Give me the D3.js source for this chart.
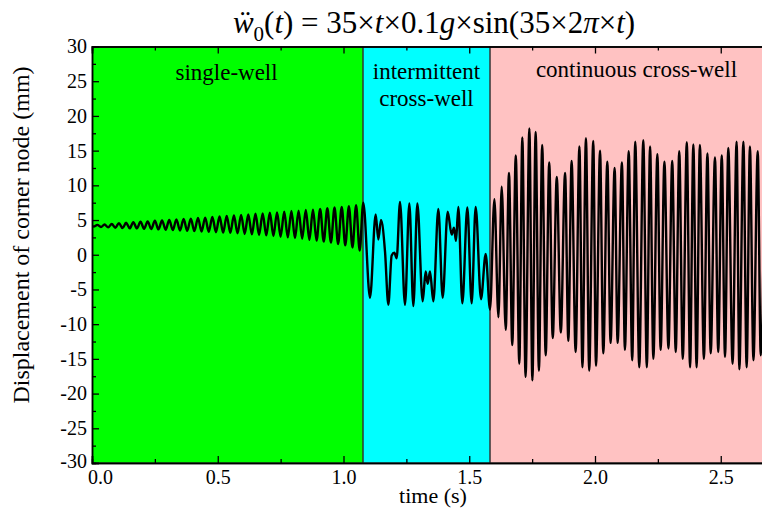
<!DOCTYPE html>
<html><head><meta charset="utf-8">
<script src="https://cdn.jsdelivr.net/npm/d3@7/dist/d3.min.js"></script>
<style>
body{margin:0;background:#fff}
svg{display:block;font-family:"Liberation Serif","Times New Roman",serif}
</style>
</head><body>
<svg id="c" width="762" height="508"></svg>
<script>
// ---------- data ----------
const regionNames = [["single-well"], ["intermittent", "cross-well"], ["continuous cross-well"]];
const regionStart = [0, 1.078, 1.583];
const regionEnd = [1.078, 1.583, 2.7];
const regionColors = ["#00ff00", "#00ffff", "#ffc2c2"];
const regionLabelTime = [0.535, 1.33, 2.165];

const xTicks = [0, 0.5, 1.0, 1.5, 2.0, 2.5];
const xMinorTicks = [0.25, 0.75, 1.25, 1.75, 2.25];
const yTicks = [-30, -25, -20, -15, -10, -5, 0, 5, 10, 15, 20, 25, 30];
const yMinorTicks = [-27.5, -22.5, -17.5, -12.5, -7.5, -2.5, 2.5, 7.5, 12.5, 17.5, 22.5, 27.5];

// single-well segment (alternating trough / peak)
const swTime = [0,
  0.0071, 0.0214, 0.0357, 0.0500, 0.0643, 0.0786, 0.0929, 0.1071, 0.1214, 0.1357,
  0.1500, 0.1643, 0.1786, 0.1929, 0.2071, 0.2214, 0.2357, 0.2500, 0.2643, 0.2786,
  0.2929, 0.3071, 0.3214, 0.3357, 0.3500, 0.3643, 0.3786, 0.3929, 0.4071, 0.4214,
  0.4357, 0.4500, 0.4643, 0.4786, 0.4929, 0.5071, 0.5214, 0.5357, 0.5500, 0.5643,
  0.5786, 0.5929, 0.6071, 0.6214, 0.6357, 0.6500, 0.6643, 0.6786, 0.6929, 0.7071,
  0.7214, 0.7357, 0.7500, 0.7643, 0.7786, 0.7929, 0.8071, 0.8214, 0.8357, 0.8500,
  0.8643, 0.8786, 0.8929, 0.9071, 0.9214, 0.9357, 0.9500, 0.9643, 0.9786, 0.9929,
  1.0071, 1.0214, 1.0357, 1.0500, 1.0643, 1.0786];
const swDisp = [4.2,
  4.05, 4.3, 4.0, 4.35, 3.95, 4.45, 3.9, 4.55, 3.85, 4.6,
  3.8, 4.7, 3.8, 4.75, 3.75, 4.8, 3.7, 4.9, 3.65, 4.95,
  3.6, 5.0, 3.55, 5.1, 3.5, 5.15, 3.45, 5.2, 3.4, 5.3,
  3.35, 5.35, 3.3, 5.45, 3.25, 5.5, 3.2, 5.6, 3.15, 5.65,
  3.1, 5.75, 3.0, 5.8, 2.95, 5.9, 2.85, 5.95, 2.8, 6.05,
  2.7, 6.1, 2.6, 6.2, 2.5, 6.3, 2.4, 6.35, 2.3, 6.45,
  2.15, 6.5, 2.05, 6.6, 1.9, 6.7, 1.75, 6.8, 1.55, 6.9,
  1.35, 7.0, 1.05, 7.15, 0.6, 7.5];

// intermittent cross-well segment
const icTime = [1.1054, 1.1279, 1.1385, 1.1491, 1.1650, 1.1783, 1.1915, 1.2021, 1.2114, 1.2247,
  1.2445, 1.2618, 1.2777, 1.2936, 1.3148, 1.3267, 1.3347, 1.3439, 1.3572, 1.3771,
  1.3943, 1.4142, 1.4301, 1.4394, 1.4473, 1.4566, 1.4725, 1.4924, 1.5096, 1.5255,
  1.5467, 1.5653, 1.5825];
const icDisp = [-6.2, 5.8, 2.2, 5.0, 0.5, -7.2, -0.1, 0.3, -0.5, 7.6,
  -7.2, 7.4, -7.4, 7.4, -6.7, -2.4, -4.2, -2.4, -6.7, 6.6,
  -6.2, 6.2, 2.9, 3.9, 2.0, 6.9, -7.0, 6.8, -7.0, 6.9,
  -6.4, 0.1, -7.9];

// continuous cross-well segment (alternating peak / trough)
const ccTime = [1.600, 1.616, 1.629, 1.645, 1.658, 1.671, 1.685, 1.699, 1.711, 1.724,
  1.739, 1.751, 1.764, 1.777, 1.790, 1.804, 1.818, 1.832, 1.848, 1.864,
  1.881, 1.894, 1.907, 1.923, 1.938, 1.950, 1.964, 1.977, 1.993, 2.004,
  2.020, 2.033, 2.049, 2.062, 2.078, 2.090, 2.107, 2.119, 2.134, 2.148,
  2.160, 2.176, 2.192, 2.206, 2.219, 2.232, 2.248, 2.261, 2.276, 2.292,
  2.307, 2.321, 2.335, 2.349, 2.365, 2.378, 2.391, 2.404, 2.417, 2.433,
  2.447, 2.460, 2.477, 2.490, 2.504, 2.517, 2.530, 2.547, 2.563, 2.574,
  2.590, 2.603, 2.616, 2.630, 2.647, 2.659, 2.675];
const ccDisp = [8.0, -9.0, 9.8, -10.8, 11.8, -13.0, 14.3, -15.7, 16.9, -17.6,
  18.2, -18.1, 17.7, -16.7, 15.8, -14.5, 13.3, -12.0, 11.2, -11.2,
  11.8, -12.4, 13.5, -14.0, 15.6, -16.2, 16.8, -16.7, 16.4, -16.0,
  15.0, -14.2, 13.4, -12.7, 12.5, -12.7, 13.3, -13.7, 14.9, -15.2,
  16.3, -16.2, 16.5, -16.2, 15.6, -15.0, 14.5, -13.7, 13.4, -13.5,
  13.5, -14.0, 14.9, -15.0, 16.2, -16.2, 15.9, -16.2, 15.8, -15.0,
  14.6, -14.2, 14.0, -14.0, 14.3, -14.7, 15.4, -15.7, 16.3, -16.5,
  16.3, -16.2, 15.6, -15.2, 14.9, -14.5, 14.5];

// ---------- drawing ----------
const svg = d3.select("#c");
const W = 762, H = 508;
const mLeft = 92, mTop = 46.5, mBottom = 463;
const pxPerSec = 251.5;
const xMax = 2.7;
const x = d3.scaleLinear().domain([0, xMax]).range([mLeft, mLeft + pxPerSec * xMax]);
const y = d3.scaleLinear().domain([-30, 30]).range([mBottom, mTop]);
const serif = "'Liberation Serif','Times New Roman',serif";

svg.append("defs").append("clipPath").attr("id", "clip")
  .append("rect").attr("x", mLeft).attr("y", mTop).attr("width", W - mLeft).attr("height", mBottom - mTop);

const plot = svg.append("g").attr("clip-path", "url(#clip)");

// regions
plot.selectAll("rect.reg").data(regionStart).enter().append("rect")
  .attr("class", "reg")
  .attr("x", (d) => x(d))
  .attr("y", y(30))
  .attr("width", (d, i) => x(regionEnd[i]) - x(d))
  .attr("height", y(-30) - y(30))
  .attr("fill", (d, i) => regionColors[i])
  .attr("stroke", "#333")
  .attr("stroke-width", 1.2);

// region labels
const labelBase = [80, 79, 77];
regionNames.forEach((lines, i) => {
  const t = svg.append("text")
    .attr("x", x(regionLabelTime[i]))
    .attr("y", labelBase[i])
    .attr("text-anchor", "middle")
    .attr("font-size", 23)
    .attr("fill", "#000");
  lines.forEach((ln, j) => {
    t.append("tspan").attr("x", x(regionLabelTime[i])).attr("dy", j === 0 ? 0 : 27).text(ln);
  });
});

// trace
const tAll = swTime.concat(icTime, ccTime);
const dAll = swDisp.concat(icDisp, ccDisp);
const pts = tAll.map((t, i) => [t, dAll[i]]);
const line = d3.line().x((d) => x(d[0])).y((d) => y(d[1])).curve(d3.curveMonotoneX);
plot.append("path").datum(pts).attr("d", line)
  .attr("fill", "none").attr("stroke", "#000").attr("stroke-width", 2.4)
  .attr("stroke-linejoin", "round");

// axes
const fmtX = d3.format(".1f");
const axB = svg.append("g").attr("transform", `translate(0,${mBottom})`)
  .call(d3.axisBottom(x).tickValues(xTicks).tickSize(-7).tickPadding(7).tickFormat(fmtX));
const axBm = svg.append("g").attr("transform", `translate(0,${mBottom})`)
  .call(d3.axisBottom(x).tickValues(xMinorTicks).tickSize(-4).tickFormat(""));
const axT = svg.append("g").attr("transform", `translate(0,${mTop})`)
  .call(d3.axisTop(x).tickValues(xTicks).tickSize(-7).tickFormat(""));
const axTm = svg.append("g").attr("transform", `translate(0,${mTop})`)
  .call(d3.axisTop(x).tickValues(xMinorTicks).tickSize(-4).tickFormat(""));
const axL = svg.append("g").attr("transform", `translate(${mLeft},0)`)
  .call(d3.axisLeft(y).tickValues(yTicks).tickSize(-7).tickPadding(5).tickFormat(d3.format("d")));
const axLm = svg.append("g").attr("transform", `translate(${mLeft},0)`)
  .call(d3.axisLeft(y).tickValues(yMinorTicks).tickSize(-4).tickFormat(""));

[axB, axBm, axT, axTm, axL, axLm].forEach((g) => {
  g.selectAll("path.domain").attr("stroke", "#000").attr("stroke-width", 1.5);
  g.selectAll(".tick line").attr("stroke", "#000").attr("stroke-width", 1.3);
  g.selectAll("text").attr("font-family", serif).attr("font-size", 20).attr("fill", "#000");
});
axL.selectAll("text").text((d) => String(d));
// nudge the first x label right, as in the reference, so it clears the "-30" label
axB.selectAll(".tick text").filter((d) => d === 0).attr("dx", 8);
axL.selectAll(".tick text").filter((d) => d === -30).attr("dy", "0.2em");

// axis titles
svg.append("text").attr("x", 433).attr("y", 503)
  .attr("text-anchor", "middle").attr("font-size", 22).text("time (s)");
svg.append("text")
  .attr("transform", `translate(29,235) rotate(-90)`)
  .attr("text-anchor", "middle").attr("font-size", 24)
  .text("Displacement of corner node (mm)");

// title
const title = svg.append("text").attr("x", 434).attr("y", 33)
  .attr("text-anchor", "middle").attr("font-size", 31);
title.append("tspan").attr("font-style", "italic").text("ẅ");
title.append("tspan").attr("font-size", 21).attr("dy", 8).text("0");
title.append("tspan").attr("dy", -8).text("(");
title.append("tspan").attr("font-style", "italic").text("t");
title.append("tspan").text(") = 35×");
title.append("tspan").attr("font-style", "italic").text("t");
title.append("tspan").text("×0.1");
title.append("tspan").attr("font-style", "italic").text("g");
title.append("tspan").text("×sin(35×2");
title.append("tspan").attr("font-style", "italic").text("π");
title.append("tspan").text("×");
title.append("tspan").attr("font-style", "italic").text("t");
title.append("tspan").text(")");
</script>
</body></html>
